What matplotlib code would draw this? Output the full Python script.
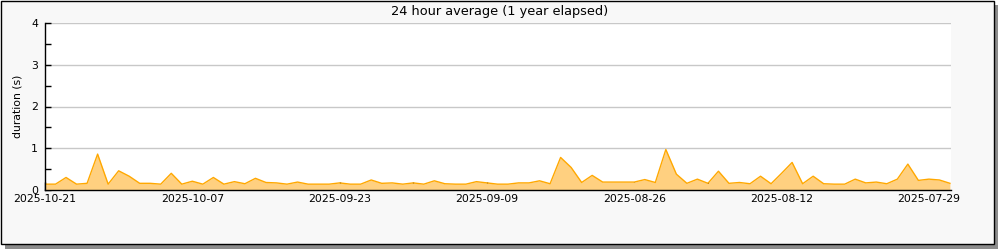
import numpy as np
import pandas as pd
import matplotlib
matplotlib.use('Agg')
import matplotlib.pyplot as plt
import matplotlib.dates as mdates
from matplotlib.patches import Rectangle

# dias, do mais recente para o mais antigo
data_inicial = '2025-10-21'
n_dias = 87
duracao = [0.14, 0.14, 0.30, 0.14, 0.16, 0.86, 0.14, 0.46, 0.33, 0.16,
           0.16, 0.14, 0.40, 0.14, 0.21, 0.14, 0.30, 0.14, 0.20, 0.15,
           0.28, 0.18, 0.17, 0.14, 0.19, 0.14, 0.14, 0.14, 0.17, 0.14,
           0.14, 0.24, 0.16, 0.17, 0.14, 0.17, 0.14, 0.22, 0.15, 0.14,
           0.14, 0.20, 0.17, 0.14, 0.14, 0.17, 0.17, 0.22, 0.15, 0.78,
           0.54, 0.18, 0.35, 0.19, 0.19, 0.19, 0.19, 0.25, 0.18, 0.97,
           0.38, 0.16, 0.26, 0.16, 0.45, 0.16, 0.18, 0.15, 0.33, 0.15,
           0.40, 0.66, 0.15, 0.33, 0.15, 0.14, 0.14, 0.26, 0.17, 0.19,
           0.15, 0.26, 0.62, 0.23, 0.26, 0.24, 0.16]
y_ticks = [0, 1, 2, 3, 4]
titulo = '24 hour average (1 year elapsed)'
rotulo_y = 'duration (s)'

datas = pd.date_range(end=data_inicial, periods=n_dias, freq='D')[::-1]

plt.rcParams['font.family'] = 'DejaVu Sans'
fig = plt.figure(figsize=(10, 2.5), dpi=100, facecolor='white')

# moldura com sombra
W, H = 1000, 250
fig.patches.append(Rectangle((5 / W, 1 / H), 993 / W, 244 / H, transform=fig.transFigure,
                             facecolor='#8c8c8c', edgecolor='none', zorder=-2))
fig.patches.append(Rectangle((1 / W, 6 / H), 993 / W, 243 / H, transform=fig.transFigure,
                             facecolor='#f8f8f8', edgecolor='black', linewidth=1, zorder=-1))

ax = fig.add_axes([45 / W, 60 / H, 906 / W, 167 / H])
ax.set_zorder(1)
ax.set_facecolor('white')
ax.fill_between(datas, duracao, 0, color='#ffd080', linewidth=0, zorder=2)
ax.plot(datas, duracao, color='#ffa800', linewidth=1, zorder=3)

ax.set_xlim(pd.Timestamp(data_inicial), pd.Timestamp(data_inicial) - pd.Timedelta(days=86.1))
ax.set_ylim(0, 4)
ax.set_yticks(y_ticks)
ax.set_yticks([0.5, 1.5, 2.5, 3.5], minor=True)

maiores = pd.date_range(end=data_inicial, periods=7, freq='14D')
menores = maiores - pd.Timedelta(days=7)
ax.set_xticks(maiores)
ax.set_xticks(menores[menores > datas[-1]], minor=True)
ax.xaxis.set_major_formatter(mdates.DateFormatter('%Y-%m-%d'))

ax.grid(axis='y', color='#c8c8c8', linewidth=1, zorder=1)
ax.set_axisbelow(True)
for lado in ['top', 'right']:
    ax.spines[lado].set_visible(False)
for lado in ['left', 'bottom']:
    ax.spines[lado].set_color('black')
    ax.spines[lado].set_linewidth(1)
    ax.spines[lado].set_zorder(4)

ax.tick_params(axis='y', which='both', direction='in', length=4, width=1, labelsize=7.8, pad=5)
ax.tick_params(axis='x', which='both', direction='in', length=6, width=1, labelsize=7.8, pad=3)

ax.set_ylabel(rotulo_y, fontsize=7.8, labelpad=6)
fig.text(0.5, 1 - 11 / H, titulo, ha='center', va='center', fontsize=9.3)

fig.savefig('out.png', dpi=100, facecolor='white')
